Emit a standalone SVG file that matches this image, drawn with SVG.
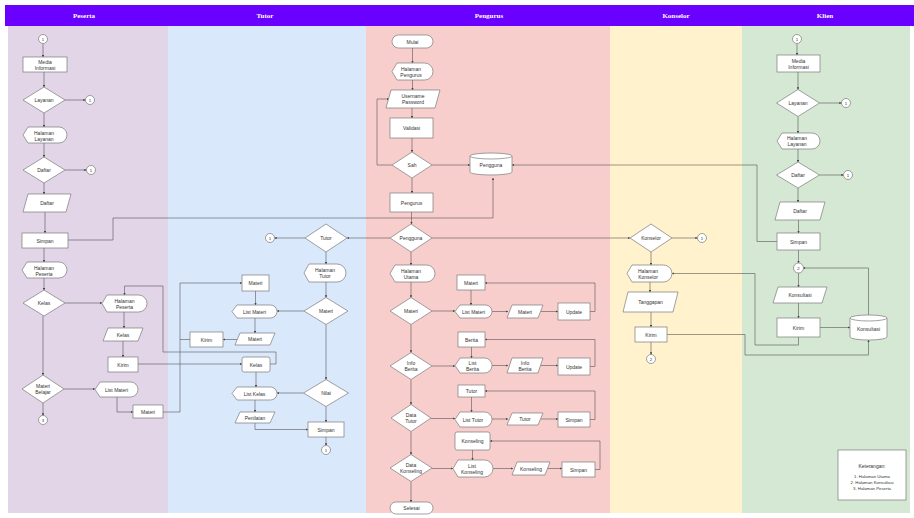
<svg xmlns="http://www.w3.org/2000/svg" width="914" height="518" viewBox="0 0 914 518">
<style>
.n{fill:#fff;stroke:#7a7a7a;stroke-width:0.7}
.t{font-family:"Liberation Sans",Arial,sans-serif;font-size:5px;fill:#333;text-anchor:middle;dominant-baseline:central}
.s{font-size:4.3px}
.h{font-family:"Liberation Serif",serif;font-size:7px;font-weight:bold;fill:#fff;text-anchor:middle;dominant-baseline:central}
.e{fill:none;stroke:#555;stroke-width:0.6}
.a{marker-end:url(#ar)}
</style>
<defs>
<marker id="ar" viewBox="0 0 6 6" refX="5.5" refY="3" markerWidth="4" markerHeight="4" orient="auto" markerUnits="strokeWidth"><path d="M0,0 L6,3 L0,6 Z" fill="#444"/></marker>
</defs>
<rect width="914" height="518" fill="#fff"/>
<g id="lanes">
<rect x="8" y="25" width="160" height="488" fill="#e1d5e7"/>
<rect x="168" y="25" width="198" height="488" fill="#dae8fc"/>
<rect x="366" y="25" width="244" height="488" fill="#f8cecc"/>
<rect x="610" y="25" width="132" height="488" fill="#fff2cc"/>
<rect x="742" y="25" width="168" height="488" fill="#d5e8d4"/>
<rect x="5" y="5" width="909" height="21" fill="#6a00ff"/>
<text class="h" x="84" y="16">Peserta</text>
<text class="h" x="265" y="16">Tutor</text>
<text class="h" x="489" y="16">Pengurus</text>
<text class="h" x="676" y="16">Konselor</text>
<text class="h" x="825" y="16">Klien</text>
</g>
<g id="connectors">
<path class="e a" d="M43,44 V57"/>
<path class="e a" d="M44,72 V87"/>
<path class="e a" d="M65,100 H85.5"/>
<path class="e a" d="M44,113 V127"/>
<path class="e a" d="M44,143 V157"/>
<path class="e a" d="M65,170 H86.5"/>
<path class="e a" d="M44,183 V194"/>
<path class="e a" d="M45,212 V233"/>
<path class="e a" d="M44,248 V262"/>
<path class="e a" d="M68,240 H113 V218 H493 V178"/>
<path class="e a" d="M44,278 V290"/>
<path class="e a" d="M65,303 H102"/>
<path class="e a" d="M124,312 V328"/>
<path class="e a" d="M123,341 V357"/>
<path class="e a" d="M138,364 H242"/>
<path class="e a" d="M43,316 V375"/>
<path class="e a" d="M64,389 H95"/>
<path class="e a" d="M43,403 V415.5"/>
<path class="e a" d="M117,397 V412 H133"/>
<path class="e a" d="M163,412 H180 V283 H242"/>
<path class="e" d="M190,339.5 H180"/>
<path class="e a" d="M270,364 H276 V352 H163 V286 H124.5 V295"/>
<path class="e a" d="M390,238 H347"/>
<path class="e a" d="M305,238 H274.5"/>
<path class="e a" d="M326,252 V264"/>
<path class="e a" d="M326,282 V297.5"/>
<path class="e a" d="M304,311 H277"/>
<path class="e a" d="M255.5,291 V305"/>
<path class="e a" d="M255,318 V333"/>
<path class="e a" d="M237,339.5 H223"/>
<path class="e a" d="M326,324.5 V379.5"/>
<path class="e a" d="M256,372 V387"/>
<path class="e a" d="M303.5,393 H277"/>
<path class="e a" d="M255,400 V412"/>
<path class="e a" d="M255,423 V429.5 H308"/>
<path class="e a" d="M326,406.5 V422"/>
<path class="e a" d="M326,437 V445.5"/>
<path class="e a" d="M412.5,48 V63"/>
<path class="e a" d="M412.5,80 V90"/>
<path class="e a" d="M412,108 V118"/>
<path class="e a" d="M412,138 V152"/>
<path class="e a" d="M392,165 H377 V99 H389"/>
<path class="e a" d="M432,165 H470"/>
<path class="e a" d="M412,178 V193"/>
<path class="e a" d="M411.5,212 V224"/>
<path class="e a" d="M777,241.5 H757 V165 H512"/>
<path class="e a" d="M432,238 H630"/>
<path class="e a" d="M411,252 V265"/>
<path class="e a" d="M411,282 V297.5"/>
<path class="e a" d="M432,311 H455"/>
<path class="e a" d="M471,290 V305"/>
<path class="e a" d="M492,311.5 H508"/>
<path class="e a" d="M541,311.5 H558"/>
<path class="e a" d="M590,311.5 H595 V283 H485"/>
<path class="e a" d="M411,324.5 V352.5"/>
<path class="e a" d="M432,366 H455"/>
<path class="e a" d="M471.5,347 V358"/>
<path class="e a" d="M492,365.5 H508"/>
<path class="e a" d="M541,365.5 H558"/>
<path class="e a" d="M590,366.5 H595 V339.5 H485"/>
<path class="e a" d="M411,379.5 V404.5"/>
<path class="e a" d="M431,418.5 H455"/>
<path class="e a" d="M471.5,397 V412"/>
<path class="e a" d="M492,419 H508"/>
<path class="e a" d="M541,419 H558"/>
<path class="e a" d="M590,419.5 H595 V391 H485"/>
<path class="e a" d="M411,431.5 V454.5"/>
<path class="e a" d="M432,468.5 H453"/>
<path class="e a" d="M472.5,450 V460"/>
<path class="e a" d="M493,468.5 H513"/>
<path class="e a" d="M548,468.5 H562"/>
<path class="e a" d="M595,469.5 H600 V441 H490"/>
<path class="e a" d="M411,481.5 V502"/>
<path class="e a" d="M672,238 H697.5"/>
<path class="e a" d="M651,252 V265"/>
<path class="e a" d="M650,282 V292"/>
<path class="e a" d="M651,312 V327"/>
<path class="e a" d="M651,342 V354.5"/>
<path class="e a" d="M667,334.5 H745 V355 H868.5 V340"/>
<path class="e a" d="M798.5,337 V345 H755 V273.5 H672"/>
<path class="e a" d="M797,44 V55"/>
<path class="e a" d="M798,72 V89.5"/>
<path class="e a" d="M819.5,103 H841.5"/>
<path class="e a" d="M798,116.5 V133"/>
<path class="e a" d="M798,149 V162"/>
<path class="e a" d="M819.5,175 H843.5"/>
<path class="e a" d="M798,188 V202"/>
<path class="e a" d="M798.5,220 V233"/>
<path class="e a" d="M798.5,250 V263"/>
<path class="e a" d="M798.5,273 V287"/>
<path class="e a" d="M798.5,303 V318"/>
<path class="e a" d="M820,327.5 H850"/>
<path class="e a" d="M868.5,315 V268 H803"/>
</g>
<g id="peserta">
<g id="p-start"><circle class="n" cx="43" cy="39" r="4.5"/><text class="t s" x="43" y="39">1</text></g>
<g id="p-media"><rect class="n" x="23" y="57" width="44" height="15"/><text class="t" x="45" y="61.5">Media</text><text class="t" x="45" y="67.5">Informasi</text></g>
<g id="p-layanan"><polygon class="n" points="23,100 44,87 65,100 44,113"/><text class="t" x="44" y="100">Layanan</text></g>
<g id="p-c1"><circle class="n" cx="90" cy="100" r="4.5"/><text class="t s" x="90" y="100">1</text></g>
<g id="p-hl"><path class="n" d="M23,135 L28,127 L59,127 A8,8 0 0 1 59,143 L28,143 Z"/><text class="t" x="44" y="132.5">Halaman</text><text class="t" x="44" y="138.5">Layanan</text></g>
<g id="p-daftar"><polygon class="n" points="23,170 44,157 65,170 44,183"/><text class="t" x="44" y="170">Daftar</text></g>
<g id="p-c2"><circle class="n" cx="91" cy="170" r="4.5"/><text class="t s" x="91" y="170">1</text></g>
<g id="p-daftar2"><polygon class="n" points="28,194 71,194 66,212 23,212"/><text class="t" x="47" y="203">Daftar</text></g>
<g id="p-simpan"><rect class="n" x="22" y="233" width="46" height="15"/><text class="t" x="45" y="240.5">Simpan</text></g>
<g id="p-hp"><path class="n" d="M22,270 L27,262 L59,262 A8,8 0 0 1 59,278 L27,278 Z"/><text class="t" x="44" y="267.5">Halaman</text><text class="t" x="44" y="273.5">Peserta</text></g>
<g id="p-kelas"><polygon class="n" points="23,303 44,290 65,303 44,316"/><text class="t" x="44" y="303">Kelas</text></g>
<g id="p-hp2"><path class="n" d="M102,303.5 L107,295 L138.5,295 A8.5,8.5 0 0 1 138.5,312 L107,312 Z"/><text class="t" x="124.5" y="300.5">Halaman</text><text class="t" x="124.5" y="306.5">Peserta</text></g>
<g id="p-kelas2"><polygon class="n" points="108,328 143,328 138,341 103,341"/><text class="t" x="123" y="334.5">Kelas</text></g>
<g id="p-kirim"><rect class="n" x="108" y="357" width="30" height="15"/><text class="t" x="123" y="364.5">Kirim</text></g>
<g id="p-mb"><polygon class="n" points="22,389 43,375 64,389 43,403"/><text class="t" x="43" y="386">Materi</text><text class="t" x="43" y="392">Belajar</text></g>
<g id="p-lm"><path class="n" d="M95,389.5 L100,382 L130.5,382 A7.5,7.5 0 0 1 130.5,397 L100,397 Z"/><text class="t" x="116.5" y="389.5">List Materi</text></g>
<g id="p-materi"><rect class="n" x="133" y="405" width="30" height="13"/><text class="t" x="148" y="411.5">Materi</text></g>
<g id="p-end"><circle class="n" cx="43" cy="420" r="4.5"/><text class="t s" x="43" y="420">3</text></g>
</g>
<g id="tutor">
<g id="t-tutor"><polygon class="n" points="305,238 326,224 347,238 326,252"/><text class="t" x="326" y="238">Tutor</text></g>
<g id="t-c"><circle class="n" cx="270" cy="238" r="4.5"/><text class="t s" x="270" y="238">1</text></g>
<g id="t-ht"><path class="n" d="M304,273 L309,264 L337,264 A9,9 0 0 1 337,282 L309,282 Z"/><text class="t" x="325" y="270">Halaman</text><text class="t" x="325" y="276">Tutor</text></g>
<g id="t-materid"><polygon class="n" points="304,311 326,297.5 348,311 326,324.5"/><text class="t" x="326" y="311">Materi</text></g>
<g id="t-lm"><path class="n" d="M232,311.5 L237,305 L270.5,305 A6.5,6.5 0 0 1 270.5,318 L237,318 Z"/><text class="t" x="254.5" y="311.5">List Materi</text></g>
<g id="t-materi"><rect class="n" x="242" y="275" width="27" height="16"/><text class="t" x="255.5" y="283">Materi</text></g>
<g id="t-materip"><polygon class="n" points="240,333 275,333 270,345 235,345"/><text class="t" x="255" y="339">Materi</text></g>
<g id="t-kirim"><rect class="n" x="190" y="332" width="33" height="15"/><text class="t" x="206.5" y="339.5">Kirim</text></g>
<g id="t-kelas"><rect class="n" x="242" y="357" width="28" height="15" rx="2"/><text class="t" x="256" y="364.5">Kelas</text></g>
<g id="t-nilai"><polygon class="n" points="303.5,393 326,379.5 348.5,393 326,406.5"/><text class="t" x="326" y="393">Nilai</text></g>
<g id="t-lk"><path class="n" d="M232,393.5 L237,387 L270.5,387 A6.5,6.5 0 0 1 270.5,400 L237,400 Z"/><text class="t" x="254.5" y="393.5">List Kelas</text></g>
<g id="t-nilaip"><polygon class="n" points="240,412 275,412 270,423 235,423"/><text class="t" x="255" y="417.5">Penilaian</text></g>
<g id="t-simpan"><rect class="n" x="308" y="422" width="36" height="15"/><text class="t" x="326" y="429.5">Simpan</text></g>
<g id="t-end"><circle class="n" cx="326" cy="450" r="4.5"/><text class="t s" x="326" y="450">1</text></g>
</g>
<g id="pengurus">
<g id="g-mulai"><rect class="n" x="392" y="35" width="41" height="13" rx="6.5"/><text class="t" x="412.5" y="41.5">Mulai</text></g>
<g id="g-hp"><path class="n" d="M392,71.5 L397,63 L424.5,63 A8.5,8.5 0 0 1 424.5,80 L397,80 Z"/><text class="t" x="411" y="68.5">Halaman</text><text class="t" x="411" y="74.5">Pengurus</text></g>
<g id="g-up"><polygon class="n" points="391,90 440,90 435,108 386,108"/><text class="t" x="413" y="96">Username</text><text class="t" x="413" y="102">Password</text></g>
<g id="g-validasi"><rect class="n" x="390" y="118" width="43" height="20"/><text class="t" x="411.5" y="128">Validasi</text></g>
<g id="g-sah"><polygon class="n" points="392,165 412,152 432,165 412,178"/><text class="t" x="412" y="165">Sah</text></g>
<g id="g-db"><path class="n" d="M470,156 A21,3 0 0 1 512,156 V172 A21,3 0 0 1 470,172 Z"/><path class="n" d="M470,156 A21,3 0 0 0 512,156" fill="none"/><text class="t" x="491" y="165">Pengguna</text></g>
<g id="g-pengurus"><rect class="n" x="390" y="193" width="43" height="19"/><text class="t" x="411.5" y="202.5">Pengurus</text></g>
<g id="g-pengguna"><polygon class="n" points="390,238 411,224 432,238 411,252"/><text class="t" x="411" y="238">Pengguna</text></g>
<g id="g-hu"><path class="n" d="M390,273.5 L395,265 L426.5,265 A8.5,8.5 0 0 1 426.5,282 L395,282 Z"/><text class="t" x="411" y="270.5">Halaman</text><text class="t" x="411" y="276.5">Utama</text></g>
<g id="g-materid"><polygon class="n" points="390,311 411,297.5 432,311 411,324.5"/><text class="t" x="411" y="311">Materi</text></g>
<g id="g-materi"><rect class="n" x="457" y="275" width="28" height="15"/><text class="t" x="471" y="282.5">Materi</text></g>
<g id="g-lm"><path class="n" d="M455,311.5 L460,305 L485.5,305 A6.5,6.5 0 0 1 485.5,318 L460,318 Z"/><text class="t" x="473.5" y="311.5">List Materi</text></g>
<g id="g-materip"><polygon class="n" points="512,305 543,305 538,318 507,318"/><text class="t" x="525" y="311.5">Materi</text></g>
<g id="g-update1"><rect class="n" x="558" y="303" width="32" height="17"/><text class="t" x="574" y="311.5">Update</text></g>
<g id="g-ibd"><polygon class="n" points="390,366 411,352.5 432,366 411,379.5"/><text class="t" x="411" y="363">Info</text><text class="t" x="411" y="369">Berita</text></g>
<g id="g-berita"><rect class="n" x="458" y="332" width="27" height="15"/><text class="t" x="471.5" y="339.5">Berita</text></g>
<g id="g-lb"><path class="n" d="M455,365.5 L460,358 L484.5,358 A7.5,7.5 0 0 1 484.5,373 L460,373 Z"/><text class="t" x="472.5" y="362.5">List</text><text class="t" x="472.5" y="368.5">Berita</text></g>
<g id="g-ibp"><polygon class="n" points="512,358 543,358 538,373 507,373"/><text class="t" x="525" y="362.5">Info</text><text class="t" x="525" y="368.5">Berita</text></g>
<g id="g-update2"><rect class="n" x="558" y="358" width="32" height="17"/><text class="t" x="574" y="366.5">Update</text></g>
<g id="g-dtd"><polygon class="n" points="391,418 411,404.5 431,418 411,431.5"/><text class="t" x="411" y="415">Data</text><text class="t" x="411" y="421">Tutor</text></g>
<g id="g-tutor"><rect class="n" x="458" y="385" width="27" height="12"/><text class="t" x="471.5" y="391">Tutor</text></g>
<g id="g-lt"><path class="n" d="M455,419.5 L460,412 L484.5,412 A7.5,7.5 0 0 1 484.5,427 L460,427 Z"/><text class="t" x="473" y="419.5">List Tutor</text></g>
<g id="g-tutorp"><polygon class="n" points="512,413 543,413 538,425 507,425"/><text class="t" x="525" y="419">Tutor</text></g>
<g id="g-simpan1"><rect class="n" x="558" y="412" width="32" height="15"/><text class="t" x="574" y="419.5">Simpan</text></g>
<g id="g-dkd"><polygon class="n" points="390,468 411,454.5 432,468 411,481.5"/><text class="t" x="411" y="465">Data</text><text class="t" x="411" y="471">Konseling</text></g>
<g id="g-konseling"><rect class="n" x="455" y="432" width="35" height="18" rx="2"/><text class="t" x="472.5" y="441">Konseling</text></g>
<g id="g-lk"><path class="n" d="M453,468.5 L458,460 L484.5,460 A8.5,8.5 0 0 1 484.5,477 L458,477 Z"/><text class="t" x="472" y="465.5">List</text><text class="t" x="472" y="471.5">Konseling</text></g>
<g id="g-konselingp"><polygon class="n" points="517,462 550,462 545,475 512,475"/><text class="t" x="531" y="468.5">Konseling</text></g>
<g id="g-simpan2"><rect class="n" x="562" y="462" width="33" height="15"/><text class="t" x="578.5" y="469.5">Simpan</text></g>
<g id="g-selesai"><rect class="n" x="390" y="502" width="43" height="12" rx="6"/><text class="t" x="411.5" y="508">Selesai</text></g>
</g>
<g id="konselor">
<g id="k-konselor"><polygon class="n" points="630,238 651,224 672,238 651,252"/><text class="t" x="651" y="238">Konselor</text></g>
<g id="k-c"><circle class="n" cx="702" cy="238" r="4.5"/><text class="t s" x="702" y="238">1</text></g>
<g id="k-hk"><path class="n" d="M627,273.5 L632,265 L663.5,265 A8.5,8.5 0 0 1 663.5,282 L632,282 Z"/><text class="t" x="648" y="270.5">Halaman</text><text class="t" x="648" y="276.5">Konselor</text></g>
<g id="k-tanggapan"><polygon class="n" points="628,292 678,292 673,312 623,312"/><text class="t" x="650.5" y="302">Tanggapan</text></g>
<g id="k-kirim"><rect class="n" x="635" y="327" width="32" height="15"/><text class="t" x="651" y="334.5">Kirim</text></g>
<g id="k-end"><circle class="n" cx="651" cy="359" r="4.5"/><text class="t s" x="651" y="359">2</text></g>
</g>
<g id="klien">
<g id="c-start"><circle class="n" cx="797" cy="39" r="4.5"/><text class="t s" x="797" y="39">1</text></g>
<g id="c-media"><rect class="n" x="777" y="55" width="43" height="17"/><text class="t" x="798.5" y="60.5">Media</text><text class="t" x="798.5" y="66.5">Informasi</text></g>
<g id="c-layanan"><polygon class="n" points="776.5,103 798,89.5 819.5,103 798,116.5"/><text class="t" x="798" y="103">Layanan</text></g>
<g id="c-c1"><circle class="n" cx="846" cy="103" r="4.5"/><text class="t s" x="846" y="103">1</text></g>
<g id="c-hl"><path class="n" d="M777,141 L782,133 L812,133 A8,8 0 0 1 812,149 L782,149 Z"/><text class="t" x="797" y="138">Halaman</text><text class="t" x="797" y="144">Layanan</text></g>
<g id="c-daftar"><polygon class="n" points="776.5,175 798,162 819.5,175 798,188"/><text class="t" x="798" y="175">Daftar</text></g>
<g id="c-c2"><circle class="n" cx="848" cy="175" r="4.5"/><text class="t s" x="848" y="175">1</text></g>
<g id="c-daftar2"><polygon class="n" points="780,202 825,202 820,220 775,220"/><text class="t" x="800" y="211">Daftar</text></g>
<g id="c-simpan"><rect class="n" x="777" y="233" width="43" height="17"/><text class="t" x="798.5" y="241.5">Simpan</text></g>
<g id="c-c3"><circle class="n" cx="798.5" cy="268" r="5"/><text class="t s" x="798.5" y="268">2</text></g>
<g id="c-konsultasi"><polygon class="n" points="778,287 827,287 822,303 773,303"/><text class="t" x="800" y="295">Konsultasi</text></g>
<g id="c-kirim"><rect class="n" x="777" y="318" width="43" height="19"/><text class="t" x="798.5" y="327.5">Kirim</text></g>
<g id="c-db"><path class="n" d="M850,318 A18.5,3 0 0 1 887,318 V337 A18.5,3 0 0 1 850,337 Z"/><path class="n" d="M850,318 A18.5,3 0 0 0 887,318" fill="none"/><text class="t" x="868.5" y="329">Konsultasi</text></g>
</g>
<g id="legend">
<rect class="n" x="838" y="450" width="68" height="50"/>
<text class="t" x="872" y="466">Keterangan:</text>
<text class="t s" x="872" y="476">1. Halaman Utama</text>
<text class="t s" x="872" y="482">2. Halaman Konsultasi</text>
<text class="t s" x="872" y="488">3. Halaman Peserta</text>
</g>
</svg>
